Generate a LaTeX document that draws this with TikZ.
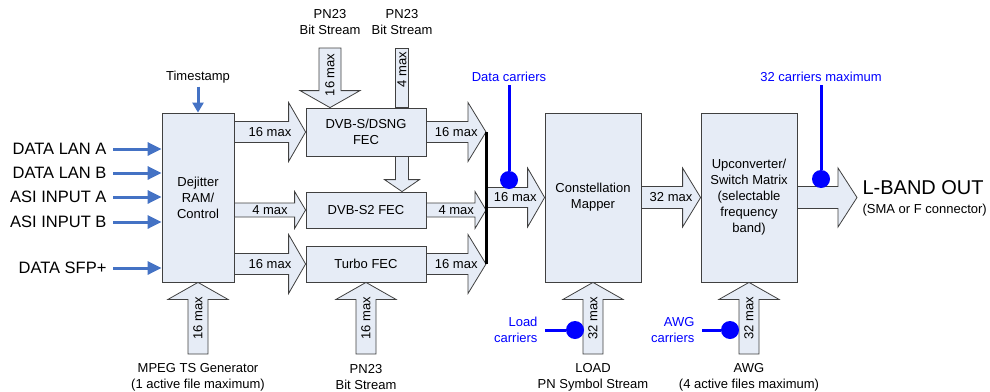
\documentclass[tikz,border=0pt]{standalone}
\usepackage{fontspec}
\setmainfont{Liberation Sans}
\usetikzlibrary{arrows.meta,calc}

\definecolor{boxfill}{RGB}{230,236,246}
\definecolor{edge}{RGB}{64,64,64}
\definecolor{inblue}{RGB}{68,114,196}

\newcommand{\txt}{\fontsize{13}{16}\selectfont}
\newcommand{\bigtxt}{\fontsize{16.5}{20}\selectfont}

\tikzset{
  block/.style={draw=edge, fill=boxfill, line width=0.8pt, align=center},
  fatbody/.style={draw=edge, fill=boxfill, line width=0.8pt, line join=miter},
  arrowlbl/.style={inner sep=0pt},
  inarrow/.style={inblue, line width=3pt, -{Triangle[length=14pt,width=13pt]}},
  carrier/.style={blue, line width=3pt},
  dot/.style={circle, fill=blue, inner sep=0pt, minimum size=18pt},
}

% fat arrow: [label opts]{start}{tip}{half body}{half head}{head length}{label}
\newcommand{\fatarrow}[7][]{%
  \coordinate (fa1) at (#2);
  \coordinate (fa2) at (#3);
  \coordinate (fah) at ($(fa2)!#6!(fa1)$);
  \filldraw[fatbody] ($(fa1)!#4!90:(fa2)$) -- ($(fah)!#4!-90:(fa1)$) -- ($(fah)!#5!-90:(fa1)$) -- (fa2)
    -- ($(fah)!#5!90:(fa1)$) -- ($(fah)!#4!90:(fa1)$) -- ($(fa1)!#4!-90:(fa2)$) -- cycle;
  \node[arrowlbl,#1] at ($(fa1)!0.5!(fa2)$) {#7};
}

\begin{document}
\begin{tikzpicture}[x=1pt, y=-1pt, font=\txt]
    \useasboundingbox (0,0) rectangle (990,391);

    % Blocks
    \node[block, minimum width=72pt, minimum height=169pt] (dejit) at (198,197.5) {Dejitter\\RAM/\\Control};
    \node[block, minimum width=120pt, minimum height=48pt] (dvbs) at (366,132) {DVB-S/DSNG\\FEC};
    \node[block, minimum width=120pt, minimum height=36pt] (dvbs2) at (366,210) {DVB-S2 FEC};
    \node[block, minimum width=120pt, minimum height=36pt] (turbo) at (366,264) {Turbo FEC};
    \node[block, minimum width=96pt, minimum height=169pt] (mapper) at (593,197.5) {Constellation\\Mapper};
    \node[block, minimum width=96pt, minimum height=169pt] (upconv) at (749,197.5) {Upconverter/\\Switch Matrix\\(selectable\\frequency\\band)};

    % Inputs
    \node[anchor=east, font=\bigtxt] (lana) at (110,149) {DATA LAN A};
    \node[anchor=east, font=\bigtxt] (lanb) at (110,173) {DATA LAN B};
    \node[anchor=east, font=\bigtxt] (asia) at (110,197) {ASI INPUT A};
    \node[anchor=east, font=\bigtxt] (asib) at (110,222) {ASI INPUT B};
    \node[anchor=east, font=\bigtxt] (sfp) at (110,268) {DATA SFP+};
    \foreach \n in {lana,lanb,asia,asib,sfp}
        \draw[inarrow] ([xshift=3pt]\n.east) -- (\n.east -| dejit.west);

    \node (ts) at (198,77) {Timestamp};
    \draw[inblue, line width=3pt, -{Triangle[length=10pt,width=11pt]}] (ts.south) -- (dejit.north);

    % Into the FECs
    \fatarrow{dejit.east |- dvbs}{dvbs.west}{10.5pt}{29.5pt}{17pt}{16 max}
    \fatarrow{dejit.east |- dvbs2}{dvbs2.west}{7pt}{18.5pt}{11pt}{4 max}
    \fatarrow{dejit.east |- turbo}{turbo.west}{10.5pt}{29.5pt}{17pt}{16 max}

    % Bus
    \coordinate (bus) at (486,0);
    \fatarrow{dvbs.east}{bus |- dvbs}{10.5pt}{29.5pt}{18pt}{16 max}
    \fatarrow{dvbs2.east}{bus |- dvbs2}{7pt}{18.5pt}{11pt}{4 max}
    \fatarrow{turbo.east}{bus |- turbo}{10.5pt}{29.5pt}{18pt}{16 max}

    \fatarrow{bus |- mapper}{mapper.west}{10pt}{29.5pt}{17pt}{16 max}
    \fatarrow{mapper.east}{upconv.west}{11pt}{29.5pt}{18pt}{32 max}
    \coordinate (out) at (857,197.5);
    \fatarrow{upconv.east}{out}{11pt}{29.5pt}{19pt}{}
    \draw[line width=3pt] (bus |- dvbs) -- (bus |- turbo);

    % PN23 sources on top
    \node[align=center] (pnone) at (330,22) {PN23\\Bit Stream};
    \node[align=center] (pntwo) at (402,22) {PN23\\Bit Stream};
    \coordinate (topsrc) at (0,48);
    \fatarrow[yshift=3pt, rotate=90]{pnone |- topsrc}{pnone |- dvbs.north}{11pt}{30pt}{17pt}{16 max}
    \fatarrow[yshift=8pt, rotate=90]{pntwo |- topsrc}{pntwo |- dvbs.north}{6.5pt}{6.5pt}{0pt}{4 max}
    \fatarrow{pntwo |- dvbs.south}{pntwo |- dvbs2.north}{6.5pt}{17.5pt}{12pt}{}

    % Sources below
    \coordinate (botsrc) at (0,354);
    \fatarrow[rotate=90]{dejit.south |- botsrc}{dejit.south}{10pt}{30pt}{17pt}{16 max}
    \fatarrow[rotate=90]{turbo.south |- botsrc}{turbo.south}{10pt}{30pt}{17pt}{16 max}
    \fatarrow[rotate=90]{mapper.south |- botsrc}{mapper.south}{10pt}{30pt}{17pt}{32 max}
    \fatarrow[rotate=90]{upconv.south |- botsrc}{upconv.south}{10pt}{30pt}{17pt}{32 max}

    \node[align=center] (mpeg) at (198,377) {MPEG TS Generator\\(1 active file maximum)};
    \node[align=center] (pnbot) at (366,377) {PN23\\Bit Stream};
    \node[align=center] (load) at (593,377) {LOAD\\PN Symbol Stream};
    \node[align=center] (awg) at (749,377) {AWG\\(4 active files maximum)};

    % Carrier taps
    \node[blue] (dc) at (509,77) {Data carriers};
    \node[dot] (dcdot) at (509,180) {};
    \draw[carrier] (dc.south) -- (dcdot);

    \node[blue] (cm) at (821,77) {32 carriers maximum};
    \node[dot] (cmdot) at (821,179) {};
    \draw[carrier] (cm.south) -- (cmdot);

    \node[blue, align=right, anchor=east] (lc) at (541,330) {Load\\carriers};
    \node[dot] (lcdot) at (575,330) {};
    \draw[carrier] ([xshift=4pt]lc.east) -- (lcdot);

    \node[blue, align=right, anchor=east] (ac) at (698,330) {AWG\\carriers};
    \node[dot] (acdot) at (730,330) {};
    \draw[carrier] ([xshift=4pt]ac.east) -- (acdot);

    % Output
    \node[anchor=west, font=\fontsize{20}{24}\selectfont] (lband) at (859,188) {L-BAND OUT};
    \node[anchor=west] (conn) at (859,210) {(SMA or F connector)};
\end{tikzpicture}
\end{document}
